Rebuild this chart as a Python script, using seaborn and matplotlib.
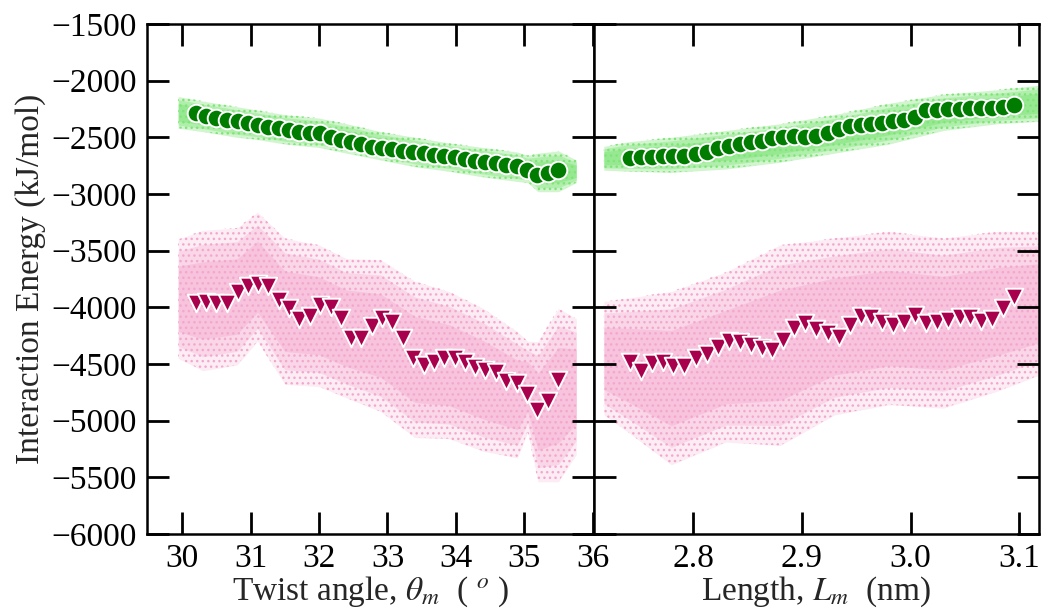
import numpy as np
import matplotlib
matplotlib.use("Agg")
import matplotlib.pyplot as plt
import seaborn as sns

# ---------------- data ----------------
theta = [30.20, 30.35, 30.50, 30.65, 30.81, 30.96, 31.11, 31.26, 31.41, 31.56,
         31.71, 31.86, 32.01, 32.17, 32.32, 32.47, 32.62, 32.77, 32.92, 33.07,
         33.22, 33.37, 33.53, 33.68, 33.83, 33.98, 34.13, 34.28, 34.43, 34.58,
         34.73, 34.89, 35.04, 35.19, 35.34, 35.49]
theta_green = [-2287, -2308, -2331, -2346, -2355, -2370, -2391, -2405, -2420, -2435,
               -2456, -2465, -2465, -2494, -2524, -2544, -2562, -2583, -2598, -2607,
               -2618, -2633, -2642, -2657, -2666, -2678, -2692, -2707, -2722, -2731,
               -2740, -2752, -2784, -2829, -2811, -2790]
theta_pink = [-3965, -3950, -3959, -3959, -3862, -3809, -3797, -3809, -3935, -4009,
              -4103, -4073, -3979, -3994, -4097, -4268, -4268, -4162, -4097, -4126,
              -4274, -4444, -4509, -4479, -4444, -4450, -4479, -4523, -4553, -4568,
              -4650, -4671, -4768, -4906, -4826, -4641]

length = [2.742, 2.752, 2.762, 2.772, 2.782, 2.792, 2.803, 2.813, 2.823, 2.833,
          2.843, 2.853, 2.863, 2.873, 2.883, 2.893, 2.903, 2.913, 2.924, 2.934,
          2.944, 2.954, 2.964, 2.974, 2.984, 2.994, 3.004, 3.014, 3.024, 3.034,
          3.045, 3.055, 3.065, 3.075, 3.085, 3.095]
length_green = [-2686, -2678, -2672, -2666, -2663, -2663, -2651, -2627, -2598, -2574,
                -2562, -2544, -2530, -2509, -2497, -2488, -2494, -2488, -2465, -2426,
                -2399, -2391, -2382, -2370, -2355, -2346, -2325, -2257, -2257, -2252,
                -2249, -2243, -2243, -2237, -2234, -2219]
length_pink = [-4479, -4562, -4494, -4479, -4518, -4518, -4450, -4409, -4347, -4297,
               -4303, -4332, -4362, -4377, -4288, -4185, -4141, -4194, -4229, -4259,
               -4156, -4073, -4082, -4126, -4156, -4126, -4068, -4141, -4132, -4112,
               -4088, -4088, -4121, -4103, -4003, -3906]

# envelopes of the raw-sample clouds
cloud_theta_x = [29.94, 30.3, 30.8, 31.1, 31.5, 32.0, 32.4, 32.9, 33.4, 33.9, 34.4, 34.9, 35.05, 35.2, 35.5, 35.76]
cloud_theta_green_hi = [-2140, -2180, -2230, -2260, -2300, -2330, -2380, -2450, -2500, -2550, -2590, -2630, -2660, -2640, -2620, -2700]
cloud_theta_green_lo = [-2420, -2450, -2500, -2520, -2560, -2590, -2640, -2700, -2760, -2800, -2850, -2890, -2900, -2980, -2980, -2900]
cloud_theta_pink_hi = [-3400, -3320, -3300, -3160, -3390, -3450, -3570, -3580, -3770, -3860, -4010, -4215, -4300, -4303, -4009, -4100]
cloud_theta_pink_lo = [-4450, -4560, -4510, -4300, -4680, -4700, -4800, -4920, -5150, -5160, -5270, -5330, -5100, -5540, -5540, -5300]

cloud_len_x = [2.718, 2.74, 2.78, 2.83, 2.88, 2.93, 2.98, 3.03, 3.08, 3.118]
cloud_len_green_hi = [-2580, -2540, -2500, -2440, -2380, -2300, -2200, -2120, -2080, -2040]
cloud_len_green_lo = [-2790, -2800, -2810, -2780, -2720, -2640, -2560, -2440, -2380, -2360]
cloud_len_pink_hi = [-3950, -3920, -3860, -3690, -3450, -3390, -3330, -3390, -3330, -3330]
cloud_len_pink_lo = [-4950, -5100, -5390, -5190, -5220, -4950, -4860, -4890, -4740, -4600]

# ---------------- style ----------------
sns.set_theme(style="ticks")
plt.rcParams["font.family"] = ["Liberation Serif", "DejaVu Serif"]
plt.rcParams["mathtext.fontset"] = "stix"
plt.rcParams["hatch.linewidth"] = 1.0

GREEN_CLOUD = "#7fe578"
GREEN = "#007d00"
PINK_CLOUD = "#f4a7cd"
PINK = "#a8004c"

fig = plt.figure(figsize=(10.42, 6.12), dpi=100)
axL = fig.add_axes([0.1408, 0.1275, 0.4293, 0.8333])
axR = fig.add_axes([0.5701, 0.1275, 0.4270, 0.8333], sharey=axL)


def cloud(ax, x, lo, hi, col, a):
    lo = np.asarray(lo, float)
    hi = np.asarray(hi, float)
    mid = (lo + hi) / 2
    half = (hi - lo) / 2
    # soft-edged band: nested layers, denser towards the middle
    for frac, alpha in ((1.0, a[0]), (0.8, a[1]), (0.55, a[2])):
        ax.fill_between(x, mid - frac * half, mid + frac * half, facecolor=col,
                        alpha=alpha, linewidth=0, zorder=1)
    ax.fill_between(x, lo, hi, facecolor="none", edgecolor=col, hatch="...",
                    linewidth=0, zorder=1)


cloud(axL, cloud_theta_x, cloud_theta_green_lo, cloud_theta_green_hi, GREEN_CLOUD, (0.35, 0.4, 0.5))
cloud(axL, cloud_theta_x, cloud_theta_pink_lo, cloud_theta_pink_hi, PINK_CLOUD, (0.2, 0.3, 0.4))
cloud(axR, cloud_len_x, cloud_len_green_lo, cloud_len_green_hi, GREEN_CLOUD, (0.35, 0.4, 0.5))
cloud(axR, cloud_len_x, cloud_len_pink_lo, cloud_len_pink_hi, PINK_CLOUD, (0.2, 0.3, 0.4))

kw = dict(s=160, edgecolor="white", linewidth=1.4, zorder=3)
sns.scatterplot(x=theta, y=theta_green, ax=axL, marker="o", color=GREEN, **kw)
sns.scatterplot(x=theta, y=theta_pink, ax=axL, marker="v", color=PINK, **kw)
sns.scatterplot(x=length, y=length_green, ax=axR, marker="o", color=GREEN, **kw)
sns.scatterplot(x=length, y=length_pink, ax=axR, marker="v", color=PINK, **kw)

axL.set_xlim(29.48, 36.02)
axR.set_xlim(2.709, 3.118)
axL.set_ylim(-6000, -1500)
axL.set_xticks([30, 31, 32, 33, 34, 35, 36])
axR.set_xticks([2.8, 2.9, 3.0, 3.1])
axR.set_xticklabels(["2.8", "2.9", "3.0", "3.1"])
axL.set_yticks(np.arange(-6000, -1499, 500))
axL.set_yticklabels([f"\u2212{abs(v)}" for v in range(-6000, -1499, 500)])

for ax in (axL, axR):
    ax.set_axisbelow(False)
    for s in ax.spines.values():
        s.set_linewidth(1.8)
        s.set_color("black")
        s.set_zorder(4)
    ax.tick_params(direction="in", length=16, width=2.0, top=True, right=True,
                   bottom=True, left=True, labelsize=24, pad=7, colors="black")
axR.tick_params(labelleft=False)

axL.set_ylabel("Interaction Energy (kJ/mol)", fontsize=24, labelpad=4)
axL.set_xlabel(r"Twist angle, $\theta_m$  ( $^o$ )", fontsize=24, labelpad=0)
axR.set_xlabel(r"Length, $L_m$  (nm)", fontsize=24, labelpad=0)

fig.savefig("out.png", dpi=100)
